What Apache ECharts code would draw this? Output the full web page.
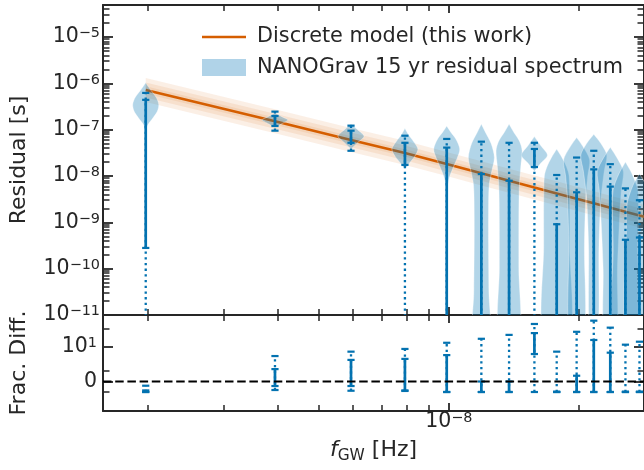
<!DOCTYPE html>
<html><head><meta charset="utf-8">
<script src="https://cdn.jsdelivr.net/npm/echarts@6/dist/echarts.min.js"></script>
<style>html,body{margin:0;padding:0;background:#fff}#c{width:644px;height:470px}</style>
</head><body><div id="c"></div>
<script>
// ---------------- data ----------------
const freqsHz = [1.98e-9, 3.95e-9, 5.93e-9, 7.91e-9, 9.89e-9, 1.19e-8, 1.38e-8, 1.58e-8, 1.78e-8, 1.98e-8, 2.17e-8, 2.37e-8, 2.57e-8, 2.77e-8];
// residual error bars [s] (outer = dotted, inner = solid)
const outerLo = [1e-13, 9.5e-8, 3.5e-8, 1e-13, 1e-13, 1e-13, 1e-13, 1e-13, 1e-13, 1e-13, 1e-13, 1e-13, 1e-13, 1e-13];
const outerHi = [6.2e-7, 2.45e-7, 1.22e-7, 7.4e-8, 6.3e-8, 5.5e-8, 5.2e-8, 5.2e-8, 1.05e-8, 2.5e-8, 3.5e-8, 1.8e-8, 5.4e-9, 3.0e-9];
const innerLo = [2.8e-10, 1.2e-7, 5.2e-8, 1.73e-8, 1e-13, 1e-13, 1e-13, 1.56e-8, 1e-13, 1e-13, 1e-13, 1e-13, 1e-13, 1e-13];
const innerHi = [4.4e-7, 1.97e-7, 9.5e-8, 5.2e-8, 4.1e-8, 1.1e-8, 7.9e-9, 3.83e-8, 9.1e-10, 4.45e-9, 1.39e-8, 5.9e-9, 4.2e-10, 4.7e-10];
// fractional difference error bars
const fracOuterLo = [-1, -0.81, -0.88, -0.9, -1, -1, -1, -1, -1, -1, -1, -1, -1, -1];
const fracOuterHi = [-0.4, 4.2, 6.4, 8.3, 15, 22, 32, 91, 6.4, 43, 125, 64, 12.5, 16.6];
const fracInnerLo = [-1, -0.43, -0.43, -0.85, -1, -1, -1, 5.1, -1, -1, -1, -1, -1, -1];
const fracInnerHi = [-0.85, 1.2, 2.9, 3.2, 4.6, 0.0, 0.0, 38, -0.97, 0.55, 19.6, 5.8, -0.97, -0.97];
// discrete model curve
const modelFreqsHz = [1.98e-9, 3.95e-9, 5.93e-9, 7.91e-9, 9.89e-9, 1.19e-8, 1.38e-8, 1.58e-8, 1.78e-8, 1.98e-8, 2.17e-8, 2.37e-8, 2.57e-8, 2.77e-8, 2.97e-8];
const modelResidual = [7.18e-7, 1.52e-7, 6.0e-8, 3.15e-8, 1.81e-8, 1.14e-8, 7.87e-9, 5.64e-9, 4.21e-9, 3.23e-9, 2.57e-9, 2.07e-9, 1.69e-9, 1.40e-9, 1.19e-9];
const modelBandsDex = [0.26, 0.16, 0.08];
// violin profiles: [log10 residual, relative density]
const violinShapes = [
  [[-5.99,0],[-6.15,0.4],[-6.3,0.8],[-6.45,1],[-6.6,0.9],[-6.75,0.55],[-6.88,0.2],[-7.0,0]],
  [[-6.64,0],[-6.73,0.6],[-6.79,1],[-6.86,0.6],[-6.96,0]],
  [[-6.88,0],[-7.0,0.5],[-7.14,1],[-7.27,0.55],[-7.42,0]],
  [[-6.97,0],[-7.1,0.25],[-7.25,0.65],[-7.42,1],[-7.58,0.75],[-7.72,0.35],[-7.85,0]],
  [[-6.92,0],[-7.05,0.3],[-7.2,0.7],[-7.42,1],[-7.62,0.8],[-7.85,0.45],[-8.05,0.18],[-8.3,0.04],[-8.45,0]],
  [[-6.88,0],[-7.05,0.3],[-7.3,0.75],[-7.6,1],[-7.9,0.8],[-8.2,0.6],[-8.8,0.55],[-9.5,0.55],[-10.5,0.58],[-11.5,0.6]],
  [[-6.88,0],[-7.05,0.35],[-7.25,0.8],[-7.45,1],[-7.8,0.9],[-8.3,0.78],[-9,0.75],[-10,0.75],[-11.5,0.75]],
  [[-7.15,0],[-7.35,0.5],[-7.55,1],[-7.72,0.5],[-7.9,0]],
  [[-7.42,0],[-7.6,0.4],[-7.8,0.75],[-8.0,0.95],[-8.5,1],[-9.5,1],[-11.5,1]],
  [[-7.17,0],[-7.35,0.45],[-7.65,1],[-8.0,0.85],[-8.5,0.7],[-9.5,0.6],[-11.5,0.55]],
  [[-7.1,0],[-7.3,0.55],[-7.55,1],[-7.9,0.8],[-8.5,0.55],[-9.5,0.4],[-11.5,0.3]],
  [[-7.38,0],[-7.6,0.5],[-7.9,1],[-8.3,0.85],[-9,0.7],[-10,0.55],[-11.5,0.45]],
  [[-7.7,0],[-7.95,0.5],[-8.3,0.95],[-8.8,1],[-9.5,0.95],[-11.5,0.9]],
  [[-7.95,0],[-8.2,0.5],[-8.6,0.95],[-9.2,1],[-11.5,1]]
];
// ticks
const xTickMajorHz = [1e-8];
const xTickMinorHz = [2e-9, 3e-9, 4e-9, 5e-9, 6e-9, 7e-9, 8e-9, 9e-9, 2e-8];
const yTickMajorExp = [-11, -10, -9, -8, -7, -6, -5];
const fracTickMajor = [0, 10];
const fracTickMinor = [-1, 1, 60];

// ---------------- helpers ----------------
const lg = Math.log10;
const LINA = 0.4375;
function symlog(v) { const a = Math.abs(v); if (a <= 1) return v * LINA; return (v < 0 ? -1 : 1) * (LINA + lg(a)); }
const X_MIN = -8.8025, X_MAX = -7.547;
const Y_MIN = -11, Y_MAX = -4.31;
const F_MIN = -1.229, F_MAX = 2.771;
const TXT = '#262626', FONT = 'DejaVu Sans';
const BLUE = '#0372b0', ORANGE = '#d55e00';

const xMaj = xTickMajorHz.map(lg), xMin = xTickMinorHz.map(lg);
const yMaj = yTickMajorExp.slice();
const yMin = [];
for (let e = -12; e <= -5; e++) for (let k = 2; k <= 9; k++) { const v = e + lg(k); if (v > Y_MIN && v < Y_MAX) yMin.push(v); }
const fMaj = fracTickMajor.map(symlog), fMin = fracTickMinor.map(symlog);

const sup = (b, s) => '{b|' + b + '}{s|' + s + '}';
const richLab = {
  b: { fontFamily: FONT, fontSize: 20.5, color: TXT, lineHeight: 21, verticalAlign: 'bottom', padding: [4, 0, 0, 0] },
  s: { fontFamily: FONT, fontSize: 14.4, color: TXT, lineHeight: 15, verticalAlign: 'top' }
};
function axis(gridIndex, position, min, max, ticks, len, opts) {
  opts = opts || {};
  const a = {
    type: 'value', gridIndex, position, min, max,
    axisLine: { show: !!opts.line, onZero: false, lineStyle: { color: TXT, width: 2 } },
    axisTick: { show: true, inside: true, length: len, customValues: ticks, lineStyle: { color: TXT, width: opts.tw || 1.8 } },
    axisLabel: opts.label ? Object.assign({ show: true, customValues: ticks, rich: richLab, fontFamily: FONT, fontSize: 20.5, color: TXT }, opts.label) : { show: false },
    splitLine: { show: false }, axisPointer: { show: false }
  };
  return Object.assign(a, opts.extra || {});
}
const nameStyle = { fontFamily: FONT, fontSize: 22, color: TXT };

const xAxes = [
  axis(0, 'bottom', X_MIN, X_MAX, xMaj, 8, { line: true }),
  axis(0, 'bottom', X_MIN, X_MAX, xMin, 6, { tw: 1.5 }),
  axis(0, 'top', X_MIN, X_MAX, xMaj, 8, { line: true }),
  axis(0, 'top', X_MIN, X_MAX, xMin, 6, { tw: 1.5 }),
  axis(1, 'bottom', X_MIN, X_MAX, xMaj, 8, { line: true,
    label: { margin: 0, formatter: v => sup('10', '−' + Math.round(-v)) },
    extra: { name: '{i|f}{g|GW}{r| [Hz]}', nameLocation: 'middle', nameGap: 28,
      nameTextStyle: { rich: {
        i: { fontFamily: FONT, fontSize: 22, fontStyle: 'italic', color: TXT, lineHeight: 24, verticalAlign: 'top' },
        g: { fontFamily: FONT, fontSize: 15.4, color: TXT, lineHeight: 15, verticalAlign: 'bottom', padding: [13, 0, 0, 0] },
        r: { fontFamily: FONT, fontSize: 22, color: TXT, lineHeight: 24, verticalAlign: 'top' } } } } }),
  axis(1, 'bottom', X_MIN, X_MAX, xMin, 6, { tw: 1.5 }),
  axis(1, 'top', X_MIN, X_MAX, xMaj, 8, { line: true }),
  axis(1, 'top', X_MIN, X_MAX, xMin, 6, { tw: 1.5 })
];
const yAxes = [
  axis(0, 'left', Y_MIN, Y_MAX, yMaj, 10, { line: true,
    label: { margin: 3, formatter: v => sup('10', '−' + Math.round(-v)) },
    extra: { name: 'Residual [s]', nameLocation: 'middle', nameGap: 73, nameTextStyle: nameStyle } }),
  axis(0, 'left', Y_MIN, Y_MAX, yMin, 6.5, { tw: 1.5 }),
  axis(0, 'right', Y_MIN, Y_MAX, yMaj, 10, { line: true }),
  axis(0, 'right', Y_MIN, Y_MAX, yMin, 6.5, { tw: 1.5 }),
  axis(1, 'left', F_MIN, F_MAX, fMaj, 10, { line: true,
    label: { margin: 6, formatter: v => (Math.abs(v) < 1e-9 ? '{b|0}' : sup('10', '1')) },
    extra: { name: 'Frac. Diff.', nameLocation: 'middle', nameGap: 73, nameTextStyle: nameStyle } }),
  axis(1, 'left', F_MIN, F_MAX, fMin, 6.5, { tw: 1.5 }),
  axis(1, 'right', F_MIN, F_MAX, fMaj, 10, { line: true }),
  axis(1, 'right', F_MIN, F_MAX, fMin, 6.5, { tw: 1.5 })
];

function errBarGroup(api, x, oLo, oHi, iLo, iHi) {
  const cx = api.coord([x, oLo])[0];
  const yo1 = api.coord([x, oLo])[1], yo2 = api.coord([x, oHi])[1];
  const yi1 = api.coord([x, iLo])[1], yi2 = api.coord([x, iHi])[1];
  const cap = (y) => ({ type: 'line', shape: { x1: cx - 3.6, y1: y, x2: cx + 3.6, y2: y }, style: { stroke: BLUE, lineWidth: 2.2 } });
  return { type: 'group', children: [
    { type: 'line', shape: { x1: cx, y1: yo1, x2: cx, y2: yo2 }, style: { stroke: BLUE, lineWidth: 2.3, lineDash: [2.3, 3.4] } },
    { type: 'line', shape: { x1: cx, y1: yi1, x2: cx, y2: yi2 }, style: { stroke: BLUE, lineWidth: 2.7 } },
    cap(yo1), cap(yo2), cap(yi1), cap(yi2)
  ] };
}

const option = {
  animation: false,
  backgroundColor: '#fff',
  grid: [
    { left: 100, top: 5, right: -2, height: 310 },
    { left: 100, top: 315, right: -2, height: 96 }
  ],
  xAxis: xAxes,
  yAxis: yAxes,
  legend: {
    orient: 'vertical', left: 197, top: 19.5, itemWidth: 44, itemHeight: 17, itemGap: 5.5,
    textStyle: { fontFamily: FONT, fontSize: 20.8, lineHeight: 25, color: TXT, padding: [0, 0, 0, 6] },
    data: [
      { name: 'Discrete model (this work)', icon: 'path://M0,0H44V2.6H0Z', itemStyle: { color: ORANGE } },
      { name: 'NANOGrav 15 yr residual spectrum', icon: 'rect', itemStyle: { color: '#b0d3e8' } }
    ]
  },
  series: [
    { type: 'custom', name: 'band', xAxisIndex: 0, yAxisIndex: 0, clip: true, z: 1,
      data: [[lg(modelFreqsHz[0]), lg(modelResidual[0])]],
      renderItem: (params, api) => ({ type: 'group', children: modelBandsDex.map(w => {
        const pts = [];
        modelFreqsHz.forEach((f, i) => pts.push(api.coord([lg(f), lg(modelResidual[i]) + w])));
        for (let i = modelFreqsHz.length - 1; i >= 0; i--) pts.push(api.coord([lg(modelFreqsHz[i]), lg(modelResidual[i]) - w]));
        return { type: 'polygon', shape: { points: pts }, style: { fill: 'rgba(213,94,0,0.1)' } };
      }) })
    },
    { type: 'line', name: 'Discrete model (this work)', xAxisIndex: 0, yAxisIndex: 0, z: 2,
      data: modelFreqsHz.map((f, i) => [lg(f), lg(modelResidual[i])]),
      symbol: 'none', lineStyle: { color: ORANGE, width: 2.6 }, itemStyle: { color: ORANGE }, clip: true },
    { type: 'custom', name: 'NANOGrav 15 yr residual spectrum', xAxisIndex: 0, yAxisIndex: 0, clip: true, z: 3,
      itemStyle: { color: '#b0d3e8' },
      data: freqsHz.map((f, i) => [lg(f), i]),
      renderItem: (params, api) => {
        const x = api.value(0), prof = violinShapes[api.value(1)];
        const hw = 13, L = [], R = [];
        prof.forEach(([ly, d]) => { const c = api.coord([x, ly]); L.push([c[0] - d * hw, c[1]]); R.push([c[0] + d * hw, c[1]]); });
        const pts = L.concat(R.reverse());
        return { type: 'polygon', shape: { points: pts, smooth: 0.3 }, style: { fill: 'rgba(1,115,178,0.3)', stroke: 'rgba(255,255,255,0.35)', lineWidth: 1 } };
      }
    },
    { type: 'custom', name: 'bars', xAxisIndex: 0, yAxisIndex: 0, clip: true, z: 4,
      data: freqsHz.map((f, i) => [lg(f), i]),
      renderItem: (params, api) => { const i = api.value(1); return errBarGroup(api, api.value(0), lg(outerLo[i]), lg(outerHi[i]), lg(innerLo[i]), lg(innerHi[i])); }
    },
    { type: 'custom', name: 'fracbars', xAxisIndex: 4, yAxisIndex: 4, clip: true, z: 4,
      data: freqsHz.map((f, i) => [lg(f), i]),
      renderItem: (params, api) => { const i = api.value(1); return errBarGroup(api, api.value(0), symlog(fracOuterLo[i]), symlog(fracOuterHi[i]), symlog(fracInnerLo[i]), symlog(fracInnerHi[i])); }
    },
    { type: 'line', name: 'zero', xAxisIndex: 4, yAxisIndex: 4, z: 5, symbol: 'none',
      data: [[X_MIN, symlog(0)], [X_MAX, symlog(0)]],
      lineStyle: { color: '#000', width: 2.2, type: [8.5, 3.7] } }
  ]
};
const chart = echarts.init(document.getElementById('c'), null, { renderer: 'canvas' });
chart.setOption(option);
</script>
</body></html>
